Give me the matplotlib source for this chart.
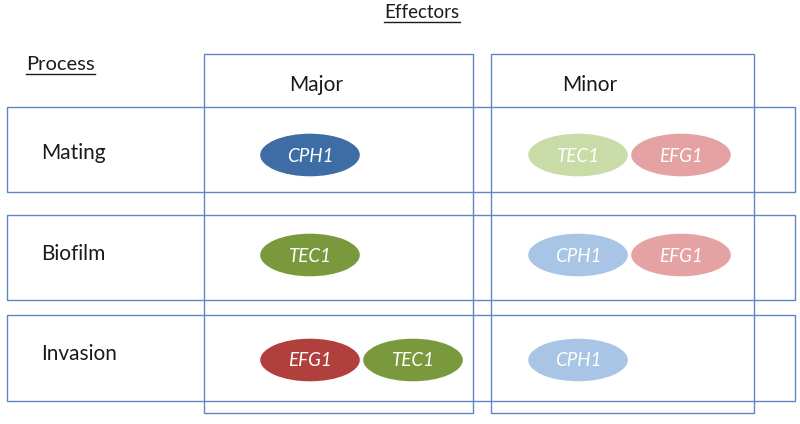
import matplotlib
matplotlib.use('Agg')
import matplotlib.pyplot as plt
from matplotlib.patches import Rectangle, Ellipse

# Contenu du schéma
title = 'Effectors'
process_header = 'Process'
columns = ['Major', 'Minor']
processes = ['Mating', 'Biofilm', 'Invasion']

# Effecteurs par processus et couleurs
major_effectors = [['CPH1'], ['TEC1'], ['EFG1', 'TEC1']]
major_colors = [['#3E6CA4'], ['#7A993C'], ['#B13F3C', '#7A993C']]
minor_effectors = [['TEC1', 'EFG1'], ['CPH1', 'EFG1'], ['CPH1']]
minor_colors = [['#C9DCA8', '#E5A2A2'], ['#A8C5E6', '#E5A2A2'], ['#A8C5E6']]

# Mise en page (pixels)
W, H = 800, 424
line_color = '#5F87C6'
text_color = '#1a1a1a'
font = 'Lato'
col_left = [204, 491]
col_right = [473, 754]
col_top, col_bottom = 54, 413
row_top = [107, 215, 315]
row_bottom = [192, 300, 401]
row_left, row_right = 7, 795
label_y = [153, 254, 354]
ell_y = [155, 255, 360]
slot_x0 = [310, 578]
slot_step = 103
ell_w, ell_h = 101, 44

fig = plt.figure(figsize=(W / 100, H / 100), dpi=100)
ax = fig.add_axes([0, 0, 1, 1])
ax.set_xlim(0, W)
ax.set_ylim(H, 0)
ax.axis('off')

# Colonnes
for x0, x1 in zip(col_left, col_right):
    ax.add_patch(Rectangle((x0, col_top), x1 - x0, col_bottom - col_top,
                           fill=False, ec=line_color, lw=1.0, zorder=3))

# Lignes de processus
for y0, y1 in zip(row_top, row_bottom):
    ax.add_patch(Rectangle((row_left, y0), row_right - row_left, y1 - y0,
                           fill=False, ec=line_color, lw=1.0, zorder=3))

# Ellipses
for i in range(len(processes)):
    for c, (names, colors) in enumerate([(major_effectors[i], major_colors[i]),
                                         (minor_effectors[i], minor_colors[i])]):
        for k, (name, col) in enumerate(zip(names, colors)):
            cx = slot_x0[c] + k * slot_step
            ax.add_patch(Ellipse((cx, ell_y[i]), ell_w, ell_h, fc=col,
                                 ec='white', lw=1, zorder=2))
            ax.text(cx, ell_y[i] + 1, name, ha='center', va='center',
                    color='white', fontsize=13.5, style='italic',
                    family=font, zorder=4)

# Textes
for i, p in enumerate(processes):
    ax.text(41, label_y[i], p, ha='left', va='center',
            fontsize=15, family=font, color=text_color)

ax.text(316, 85, columns[0], ha='center', va='center', fontsize=15,
        family=font, color=text_color)
ax.text(590, 85, columns[1], ha='center', va='center', fontsize=15,
        family=font, color=text_color)

t1 = ax.text(422, 12, title, ha='center', va='center', fontsize=13.5,
             family=font, color=text_color)
t2 = ax.text(26, 64, process_header, ha='left', va='center', fontsize=14.5,
             family=font, color=text_color)

# Soulignement
fig.canvas.draw()
renderer = fig.canvas.get_renderer()
inv = ax.transData.inverted()
for t in [t1, t2]:
    bb = t.get_window_extent(renderer)
    (x0, y0), (x1, y1) = inv.transform([(bb.x0, bb.y0), (bb.x1, bb.y1)])
    ax.plot([x0, x1], [y0 + 1, y0 + 1], color=text_color, lw=1)

fig.savefig('out.png', dpi=100)
